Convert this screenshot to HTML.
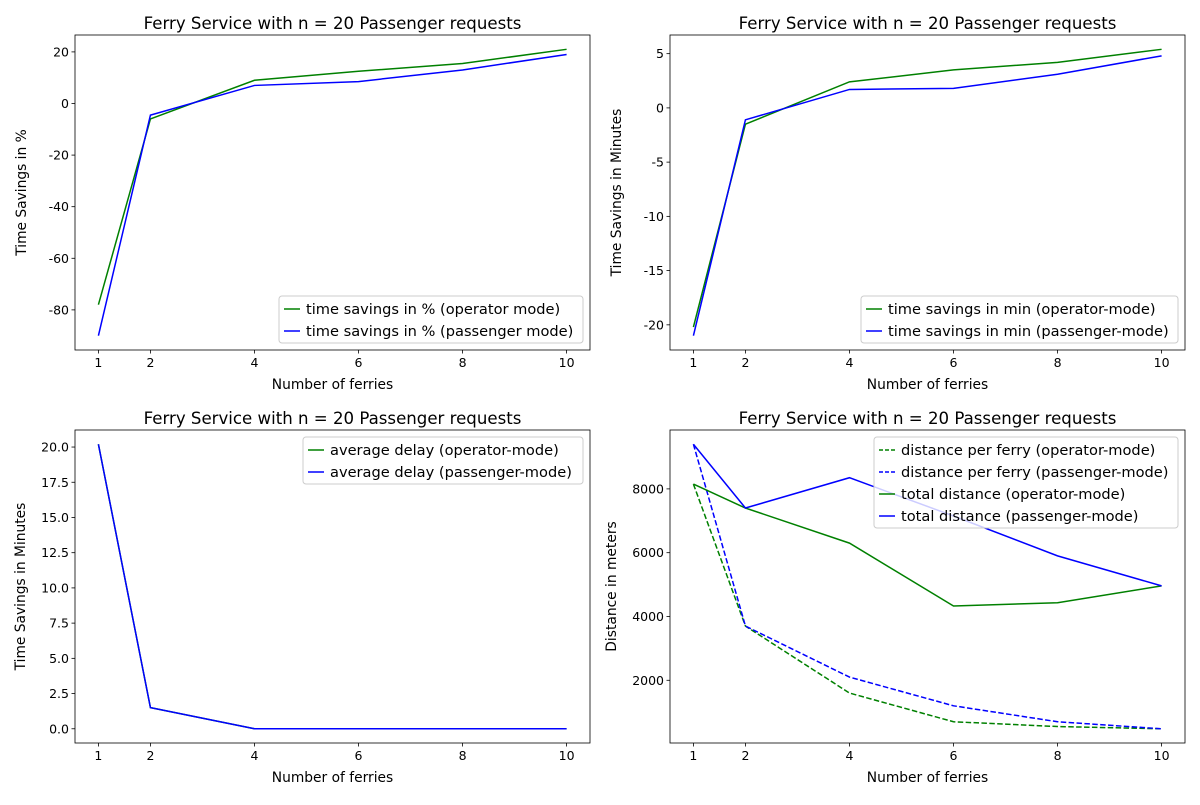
<!DOCTYPE html>
<html><head><meta charset="utf-8"><style>
body{margin:0;background:#fff;}
svg text{font-family:"DejaVu Sans","Liberation Sans",sans-serif;fill:#000;}
</style></head><body>
<svg id="fig" width="1200" height="800" xmlns="http://www.w3.org/2000/svg"></svg>
<script>
const ferries=[1,2,4,6,8,10];
const xTicks=[1,2,4,6,8,10];
const pctOperator=[-78,-6,9,12.5,15.5,21];
const pctPassenger=[-90,-4.5,7,8.5,13,19];
const minOperator=[-20.2,-1.5,2.4,3.5,4.2,5.4];
const minPassenger=[-21,-1.1,1.7,1.8,3.1,4.8];
const delayOperator=[20.2,1.5,0,0,0,0];
const delayPassenger=[20.2,1.5,0,0,0,0];
const distFerryOperator=[8150,3700,1600,700,550,480];
const distFerryPassenger=[9400,3700,2100,1200,700,480];
const distTotalOperator=[8150,7400,6300,4330,4430,4960];
const distTotalPassenger=[9400,7400,8350,7150,5900,4960];
const ticks1=[20,0,-20,-40,-60,-80];
const ticks2=[5,0,-5,-10,-15,-20];
const ticks3=[20,17.5,15,12.5,10,7.5,5,2.5,0];
const ticks4=[8000,6000,4000,2000];

const svg=document.getElementById('fig');
const NS='http://www.w3.org/2000/svg';
function el(tag,attrs,parent){const e=document.createElementNS(NS,tag);for(const k in attrs)e.setAttribute(k,attrs[k]);(parent||svg).appendChild(e);return e;}

function panel(cfg){
  const g=el('g',{});
  
  
  const L=cfg.box[0],T=cfg.box[1],R=cfg.box[2],B=cfg.box[3];
  let all=[];cfg.series.forEach(s=>all=all.concat(s.v));
  let mn=Math.min(...all),mx=Math.max(...all),pad=(mx-mn)*0.05;mn-=pad;mx+=pad;
  const xs=v=>L+(v-0.55)/(10.45-0.55)*(R-L);
  const ys=v=>B-(v-mn)/(mx-mn)*(B-T);
  cfg.series.forEach(s=>{
    const p=el('polyline',{points:ferries.map((x,i)=>xs(x)+','+ys(s.v[i])).join(' '),fill:'none',stroke:s.c,'stroke-width':1.5,'stroke-dasharray':s.d?'5.5,2.4':'none'},g);
    
    
  });
  el('rect',{x:L,y:T,width:R-L,height:B-T,fill:'none',stroke:'#000','stroke-width':0.8},g);
  xTicks.forEach(t=>{const x=xs(t);el('line',{x1:x,x2:x,y1:B,y2:B+3.5,stroke:'#000','stroke-width':0.8},g);
    const tx=el('text',{x:x,y:B+17,'font-size':12.5,'text-anchor':'middle'},g);tx.textContent=t;});
  cfg.yt.forEach(t=>{const y=ys(t);el('line',{x1:L-3.5,x2:L,y1:y,y2:y,stroke:'#000','stroke-width':0.8},g);
    const tx=el('text',{x:L-6,y:y+4.5,'font-size':12.5,'text-anchor':'end'},g);tx.textContent=cfg.fmt?cfg.fmt(t):t;});
  const title=el('text',{x:(L+R)/2,y:T-6,'font-size':16.6,'text-anchor':'middle'},g);title.textContent='Ferry Service with n = 20 Passenger requests';
  
  const xl=el('text',{x:(L+R)/2,y:B+39,'font-size':13.8,'text-anchor':'middle'},g);xl.textContent='Number of ferries';
  
  const yx=cfg.ylx,yy=(T+B)/2;
  const yl=el('text',{x:yx,y:yy,'font-size':13.8,'text-anchor':'middle',transform:`rotate(-90 ${yx} ${yy})`},g);yl.textContent=cfg.yl;
  
  const lg=cfg.lg;const lgG=el('g',{},g);
  
  el('rect',{x:lg[0],y:lg[1],width:lg[2],height:cfg.series.length*22+3,fill:'#fff','fill-opacity':0.8,stroke:'#ccc',rx:3},lgG);
  cfg.series.forEach((s,i)=>{const y=lg[1]+13+i*22;
    el('line',{x1:lg[0]+5,x2:lg[0]+21,y1:y,y2:y,stroke:s.c,'stroke-width':1.5,'stroke-dasharray':s.d?'4,2':'none'},lgG);
    const t=el('text',{x:lg[0]+27,y:y+5,'font-size':14.6},lgG);t.textContent=s.label;});
}
panel({name:'pct-panel',box:[75,35,590,350],yt:ticks1,yl:'Time Savings in %',ylx:26,lg:[279,296,304],series:[
 {v:pctOperator,c:'green',n:'line-pct-operator',label:'time savings in % (operator mode)'},
 {v:pctPassenger,c:'blue',n:'line-pct-passenger',label:'time savings in % (passenger mode)'}]});
panel({name:'min-panel',box:[670,35,1185,350],yt:ticks2,yl:'Time Savings in Minutes',ylx:621,lg:[861,296,317],series:[
 {v:minOperator,c:'green',n:'line-min-operator',label:'time savings in min (operator-mode)'},
 {v:minPassenger,c:'blue',n:'line-min-passenger',label:'time savings in min (passenger-mode)'}]});
panel({name:'delay-panel',box:[75,430,590,743],yt:ticks3,fmt:t=>t.toFixed(1),yl:'Time Savings in Minutes',ylx:25,lg:[303,437,280],series:[
 {v:delayOperator,c:'green',n:'line-delay-operator',label:'average delay (operator-mode)'},
 {v:delayPassenger,c:'blue',n:'line-delay-passenger',label:'average delay (passenger-mode)'}]});
panel({name:'distance-panel',box:[670,430,1185,743],yt:ticks4,yl:'Distance in meters',ylx:616,lg:[874,437,304],series:[
 {v:distFerryOperator,c:'green',d:1,n:'line-dist-ferry-operator',label:'distance per ferry (operator-mode)'},
 {v:distFerryPassenger,c:'blue',d:1,n:'line-dist-ferry-passenger',label:'distance per ferry (passenger-mode)'},
 {v:distTotalOperator,c:'green',n:'line-dist-total-operator',label:'total distance (operator-mode)'},
 {v:distTotalPassenger,c:'blue',n:'line-dist-total-passenger',label:'total distance (passenger-mode)'}]});
</script>
</body></html>
